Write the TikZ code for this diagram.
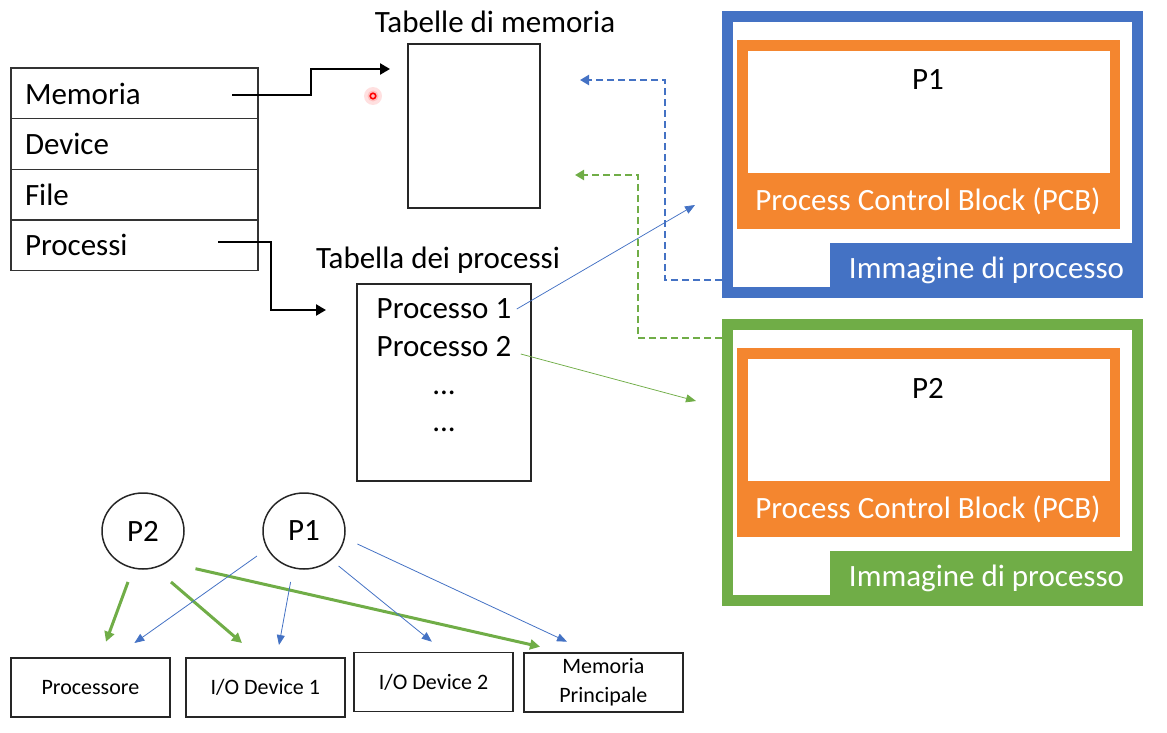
\documentclass[tikz,border=0pt]{standalone}
\usepackage{fontspec}
\setmainfont{Carlito}
\usetikzlibrary{arrows.meta,calc,shapes.geometric}
\definecolor{imgblue}{HTML}{4472C4}
\definecolor{imggreen}{HTML}{70AD47}
\definecolor{pcborange}{HTML}{F4862F}
\begin{document}
\begin{tikzpicture}[x=1pt, y=-1pt,
    big/.style={font=\fontsize{31}{37}\selectfont},
    small/.style={font=\fontsize{22}{29}\selectfont},
    row/.style={draw=black!80, line width=1.5pt, minimum width=247pt, minimum height=50.5pt, text width=219pt, inner xsep=14pt, align=left, big},
    tabbox/.style={draw=black!85, line width=1.5pt},
    ell/.style={ellipse, draw=black!85, line width=1.5pt, minimum width=82pt, minimum height=76pt, inner sep=0pt, big},
    devbox/.style={draw=black!85, line width=1.5pt, minimum width=159pt, minimum height=59pt, align=center, small},
    karrow/.style={black, line width=2.5pt, -{Triangle[width=11pt,length=10pt]}},
    dasharrow/.style={line width=2.5pt, dash pattern=on 7pt off 4pt, -{Triangle[width=10pt,length=9pt]}},
    thinarrow/.style={line width=0.75pt, -{Triangle[width=8pt,length=10pt]}},
    garrow/.style={imggreen, line width=3pt, -{Triangle[width=10pt,length=10pt]}},
    barrow/.style={imgblue, line width=0.8pt, -{Triangle[width=8pt,length=10pt]}}]
  \useasboundingbox (0,0) rectangle (1167,733);

  % kernel table
  \node[row] (mem) at (134.5,93.5) {Memoria};
  \node[row] (dev) at (134.5,144) {Device};
  \node[row] (fil) at (134.5,194.5) {File};
  \node[row] (pro) at (134.5,245) {Processi};

  % memory tables
  \node[big] (memtitle) at (495,22) {Tabelle di memoria};
  \node[tabbox, minimum width=132pt, minimum height=164pt] (memtab) at (474,126) {};
  \coordinate (memin) at (390,69);
  \coordinate (memp1) at (580,80);
  \coordinate (memp2) at (575,175);

  % process table
  \node[big] (protitle) at (438,260) {Tabella dei processi};
  \node[tabbox, minimum width=174pt, minimum height=197pt] (protab) at (444,382.5) {};
  \node[big] (e1) at (444,309) {Processo 1};
  \node[big] (e2) at (444,347) {Processo 2};
  \node[big] (e3) at (444,393) {...};
  \node[big] (e4) at (444,430) {...};
  \coordinate (procin) at (326,310);

  \draw[karrow] ($(mem)+(97.5,1.5)$) -- ++(79,0) |- (memin);
  \draw[karrow] ($(pro)+(83.5,-3)$) -- ++(53,0) |- (procin);

  % laser pointer
  \fill[red!12] (373,96) circle (9pt);
  \fill[red!25] (373,96) circle (5.5pt);
  \draw[red, line width=1.6pt] (373,96) circle (2.8pt);

  % process images
  \foreach \n/\col/\yy in {1/imgblue/0, 2/imggreen/308} {
    \node[draw=\col, line width=11pt, minimum width=410pt, minimum height=276pt] (img\n) at (932.5,154.5+\yy) {};
    \node[fill=pcborange, minimum width=383pt, minimum height=189pt] (pcb\n) at (928.5,134.5+\yy) {};
    \node[fill=white, minimum width=362pt, minimum height=122pt] (pcbin\n) at (929,112+\yy) {};
    \node[big] (pname\n) at (928,80+\yy) {P\n};
    \node[big, text=white] (pcbtext\n) at (928,201+\yy) {Process Control Block (PCB)};
    \node[big, fill=\col, text=white, minimum width=313pt, minimum height=55pt] (tab\n) at (986.5,270.5+\yy) {Immagine di processo};
  }
  \coordinate (img1in) at (695,205);
  \coordinate (img2in) at (696,401);

  \draw[dasharrow, imgblue] ($(img1.west)+(0,125.5)$) -- ++(-57,0) |- (memp1);
  \draw[dasharrow, imggreen] ($(img2.west)+(0,-124.5)$) -- ++(-84,0) |- (memp2);
  \draw[thinarrow, imgblue] ($(e1.east)+(2,0)$) -- (img1in);
  \draw[thinarrow, imggreen] ($(e2.east)+(6,7)$) -- (img2in);

  % processes and resources
  \node[ell] (p2) at (143,531) {P2};
  \node[ell] (p1) at (304,531) {P1};
  \node[devbox] (cpu) at (90.4,687.5) {Processore};
  \node[devbox] (io1) at (265.3,687.5) {I/O Device 1};
  \node[devbox] (io2) at (433.5,682) {I/O Device 2};
  \node[devbox] (ram) at (603.4,682.5) {Memoria\\Principale};

  \foreach \src/\sx/\sy/\dst/\dx/\dy/\sty in {
    p2/-15/51/cpu/15.6/-45.8/garrow, p2/28/51/io1/-23.3/-44.5/garrow, p2/52.5/37.7/ram/-63.4/-35.8/garrow,
    p1/-47/25/cpu/44/-44.5/barrow, p1/-13.4/51/io1/13.7/-42.5/barrow,
    p1/34.6/35/io2/-1.7/-40.3/barrow, p1/53.4/13/ram/-36.4/-40.8/barrow}
    \draw[\sty] ($(\src)+(\sx,\sy)$) -- ($(\dst)+(\dx,\dy)$);
\end{tikzpicture}
\end{document}
